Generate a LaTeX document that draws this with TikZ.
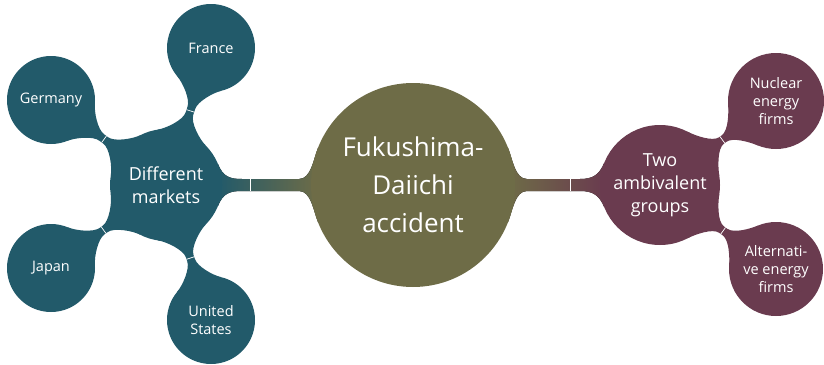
\documentclass[tikz,border=0pt]{standalone}
\usepackage{fontspec}
\setmainfont{Open Sans}
\usetikzlibrary{calc}
\definecolor{cteal}{HTML}{225A6A}
\definecolor{colive}{HTML}{6E6C47}
\definecolor{cplum}{HTML}{6A3B4F}
\pgfdeclarelayer{bg}
\pgfsetlayers{bg,main}
\tikzset{
  bubble/.style={circle, inner sep=0pt, outer sep=0pt, text=white, align=center},
  bigtxt/.style={font=\fontsize{26}{38}\selectfont},
  midtxt/.style={font=\fontsize{18}{23}\selectfont},
  smalltxt/.style={font=\fontsize{14.5}{18.3}\selectfont},
  seam/.style={draw=white, line width=0.7pt}
}
% #1 A, #2 B, #3 ra, #4 rb, #5 alpha, #6 beta, #7 f, #8 g, #9 fill options
\newcommand{\bone}[9]{%
  \path ($(#1)!#3!#5:(#2)$) coordinate (pa1)
        ($(#1)!#3!-#5:(#2)$) coordinate (pa2)
        ($(#2)!#4!-#6:(#1)$) coordinate (pb1)
        ($(#2)!#4!#6:(#1)$) coordinate (pb2);
  \fill[#9] (pa1)
    .. controls ($(pa1)!\bk!90:(#1)$) and ($(#1)!#3+#7-\bkk!(#2)!\bw!90:(#2)$)
    .. ($(#1)!#3+#7!(#2)!\bw!90:(#2)$)
    -- ($(#2)!#4+#8!(#1)!\bw!-90:(#1)$)
    .. controls ($(#2)!#4+#8-\bkk!(#1)!\bw!-90:(#1)$) and ($(pb1)!\bk!-90:(#2)$)
    .. (pb1) -- (pb2)
    .. controls ($(pb2)!\bk!90:(#2)$) and ($(#2)!#4+#8-\bkk!(#1)!\bw!90:(#1)$)
    .. ($(#2)!#4+#8!(#1)!\bw!90:(#1)$)
    -- ($(#1)!#3+#7!(#2)!\bw!-90:(#2)$)
    .. controls ($(#1)!#3+#7-\bkk!(#2)!\bw!-90:(#2)$) and ($(pa2)!\bk!-90:(#1)$)
    .. (pa2) -- cycle;
}
\newcommand{\seamat}[3]{%
  \draw[seam] ($(#1)!#3!(#2)!\bw!90:(#2)$) -- ($(#1)!#3!(#2)!\bw!-90:(#2)$);
}
\begin{document}
\begin{tikzpicture}[x=1pt,y=-1pt]
\useasboundingbox (0,0) rectangle (824,364);
% main nodes
\node[bubble, fill=colive, minimum size=204pt, bigtxt] (fk) at (413,185) {Fukushima-\\Daiichi\\accident};
\node[bubble, fill=cteal, minimum size=112pt, midtxt] (dm) at (166,185) {Different\\markets};
\node[bubble, fill=cplum, minimum size=120pt, midtxt] (ta) at (660,185) {Two\\ambivalent\\groups};
\node[bubble, fill=cteal, minimum size=88pt, smalltxt] (fr) at (211,48) {France};
\node[bubble, fill=cteal, minimum size=88pt, smalltxt] (de) at (51,100) {Germany};
\node[bubble, fill=cteal, minimum size=88pt, smalltxt] (jp) at (51,268) {Japan};
\node[bubble, fill=cteal, minimum size=88pt, smalltxt] (us) at (211,320) {United\\States};
\node[bubble, fill=cplum, minimum size=96pt, smalltxt] (nu) at (776,101) {Nuclear\\energy\\firms};
\node[bubble, fill=cplum, minimum size=94pt, smalltxt] (al) at (776,269) {Alternati-\\ve energy\\firms};
\begin{pgfonlayer}{bg}
  % central connectors
  \def\bw{6pt}\def\bk{14pt}\def\bkk{12pt}
  \bone{dm}{fk}{56pt}{102pt}{22}{22}{20pt}{12pt}{left color=cteal, right color=colive}
  \seamat{dm}{fk}{84pt}
  \bone{ta}{fk}{60pt}{102pt}{22}{22}{20pt}{12pt}{left color=colive, right color=cplum}
  \seamat{ta}{fk}{90pt}
  % small connectors
  \def\bw{4pt}\def\bk{9pt}\def\bkk{8pt}
  \bone{dm}{fr}{56pt}{44pt}{27}{32}{19pt}{19pt}{cteal}
  \seamat{dm}{fr}{78pt}
  \bone{dm}{de}{56pt}{44pt}{27}{32}{19pt}{19pt}{cteal}
  \seamat{dm}{de}{77pt}
  \bone{dm}{jp}{56pt}{44pt}{27}{32}{19pt}{19pt}{cteal}
  \seamat{dm}{jp}{77pt}
  \bone{dm}{us}{56pt}{44pt}{27}{32}{19pt}{19pt}{cteal}
  \seamat{dm}{us}{77pt}
  \bone{ta}{nu}{60pt}{48pt}{27}{32}{16pt}{16pt}{cplum}
  \seamat{ta}{nu}{77pt}
  \bone{ta}{al}{60pt}{47pt}{27}{32}{16pt}{16pt}{cplum}
  \seamat{ta}{al}{78pt}
\end{pgfonlayer}
\end{tikzpicture}
\end{document}
